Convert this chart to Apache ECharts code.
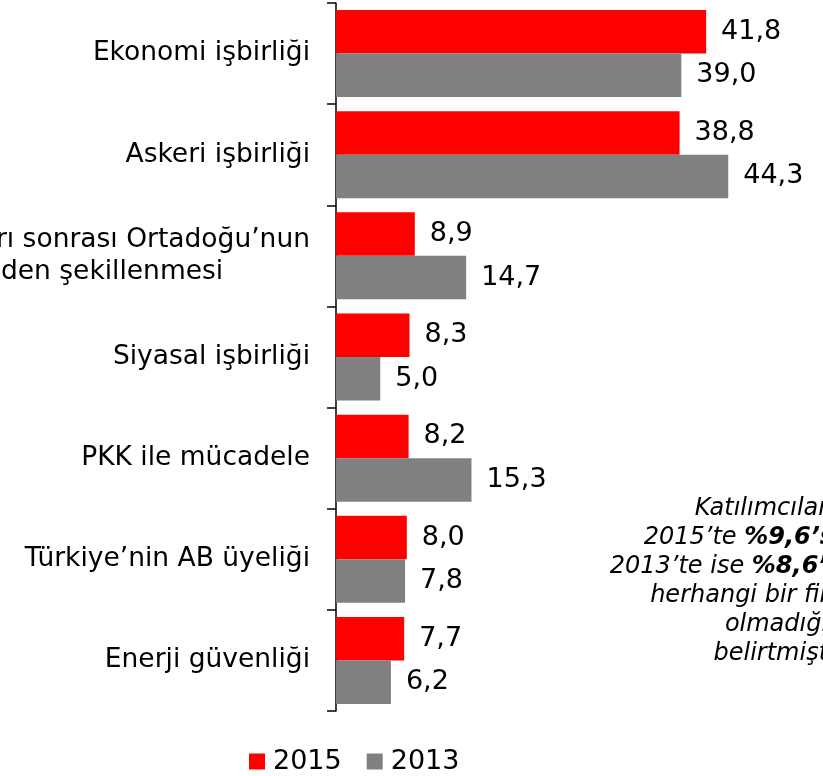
<!DOCTYPE html>
<html>
<head>
<meta charset="utf-8">
<script src="https://cdn.jsdelivr.net/npm/echarts@6.0.0/dist/echarts.min.js"></script>
<style>
  html, body { margin: 0; padding: 0; background: #fff; }
  #chart { width: 823px; height: 776px; }
</style>
</head>
<body>
<div id="chart"></div>
<script>
// chart data
const categories = [
  "Ekonomi işbirliği",
  "Askeri işbirliği",
  "Arap Baharı sonrası Ortadoğu’nun\nyeniden şekillenmesi",
  "Siyasal işbirliği",
  "PKK ile mücadele",
  "Türkiye’nin AB üyeliği",
  "Enerji güvenliği"
];
const values2015 = [41.8, 38.8, 8.9, 8.3, 8.2, 8.0, 7.7];
const values2013 = [39.0, 44.3, 14.7, 5.0, 15.3, 7.8, 6.2];
const seriesNames = ["2015", "2013"];

const FONT = "DejaVu Sans, Verdana, sans-serif";
const fmt = v => v.toFixed(1).replace(".", ",");

const myChart = echarts.init(document.getElementById("chart"));

function labelStyle() {
  return {
    show: true,
    position: "right",
    distance: 15,
    color: "#000",
    fontFamily: FONT,
    fontSize: 27,
    formatter: p => fmt(p.value)
  };
}

myChart.setOption({
  animation: false,
  grid: { left: 336, right: 0, top: 3, bottom: 65, containLabel: false, outerBoundsMode: "none" },
  xAxis: {
    type: "value",
    min: 0,
    max: 55,
    show: false,
    splitLine: { show: false }
  },
  yAxis: {
    type: "category",
    inverse: true,
    data: categories,
    axisLine: { show: true, lineStyle: { color: "#000", width: 1.5 } },
    axisTick: { show: true, length: 9, lineStyle: { color: "#000", width: 1.5 } },
    axisLabel: {
      margin: 26,
      color: "#000",
      fontFamily: FONT,
      fontSize: 26.5,
      formatter: v => v.split("\n").map(s => "{c|" + s + "}").join("\n"),
      rich: {
        c: { align: "center", color: "#000", fontFamily: FONT, fontSize: 26.5, lineHeight: 32 }
      }
    }
  },
  legend: {
    left: 244,
    top: 743,
    icon: "rect",
    itemWidth: 16,
    itemHeight: 16,
    itemGap: 25,
    textStyle: { color: "#000", fontFamily: FONT, fontSize: 27, padding: [0, 0, 0, 3] },
    data: seriesNames
  },
  series: [
    {
      name: seriesNames[0],
      type: "bar",
      data: values2015,
      barGap: "0%",
      barCategoryGap: "14%",
      itemStyle: { color: "#FF0000" },
      label: labelStyle()
    },
    {
      name: seriesNames[1],
      type: "bar",
      data: values2013,
      barGap: "0%",
      barCategoryGap: "14%",
      itemStyle: { color: "#808080" },
      label: labelStyle()
    }
  ],
  graphic: [
    {
      type: "text",
      x: 850,
      y: 494,
      style: {
        text: "Katılımcıların\n2015’te {b|%9,6’sı},\n2013’te ise {b|%8,6’sı}\nherhangi bir fikri\nolmadığını\nbelirtmiştir.",
        align: "right",
        verticalAlign: "top",
        fill: "#000",
        fontFamily: FONT,
        fontSize: 24,
        fontStyle: "italic",
        lineHeight: 29,
        rich: {
          b: { fontFamily: FONT, fontSize: 24, fontStyle: "italic", fontWeight: "bold", lineHeight: 29 }
        }
      }
    }
  ]
});
</script>
</body>
</html>
